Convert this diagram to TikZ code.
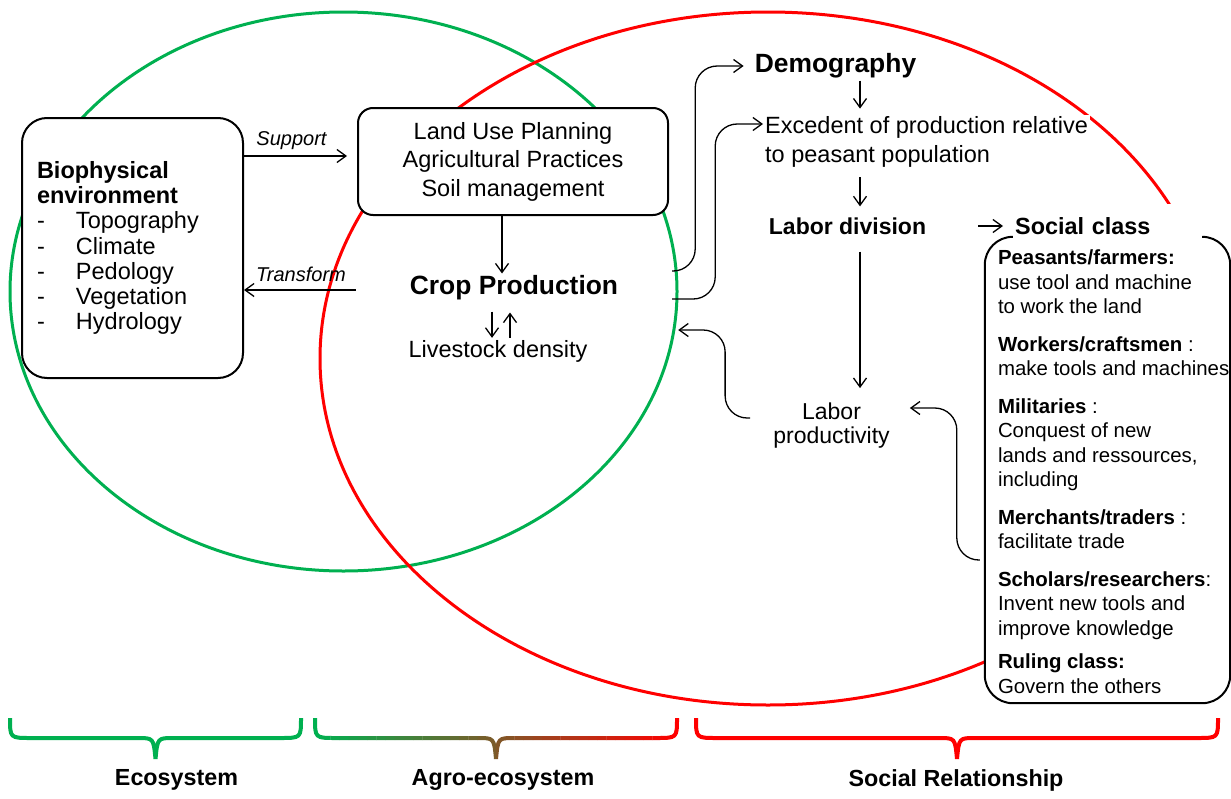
\documentclass[tikz,border=0pt]{standalone}
\usepackage{fontspec}
\setmainfont{Liberation Sans}
\usepackage{xcolor}
\usetikzlibrary{positioning, arrows.meta}

\definecolor{ecogreen}{RGB}{0,176,80}
\definecolor{socred}{RGB}{255,0,0}

\newcommand{\bodysize}{\fontsize{23.5}{28.5}\selectfont}
\newcommand{\listsize}{\fontsize{23.5}{25.3}\selectfont}
\newcommand{\headsize}{\fontsize{26.4}{30}\selectfont}
\newcommand{\labelsize}{\fontsize{20}{24}\selectfont}
\newcommand{\classsize}{\fontsize{20.4}{24.5}\selectfont}
\newcommand{\listitem}[1]{\makebox[39pt][l]{-}#1}
\newcommand{\drawbrace}[3]{%
  \draw[brace, #3] (#1,718) .. controls (#1,738) .. ({#1+21},738)
    -- ({(#1+#2)/2-18},738) .. controls ({(#1+#2)/2-2},738) .. ({(#1+#2)/2},759)
    .. controls ({(#1+#2)/2+2},738) .. ({(#1+#2)/2+18},738)
    -- ({#2-21},738) .. controls (#2,738) .. (#2,718);}

\begin{document}
\begin{tikzpicture}[x=1pt, y=-1pt, >={Straight Barb[length=9pt,width=13pt]},
    every node/.style={inner sep=2pt},
    roundbox/.style={draw, line width=2pt, fill=white},
    link/.style={->, line width=1.3pt},
    curved/.style={link, rounded corners=22pt},
    region/.style={line width=3pt},
    brace/.style={line width=4pt}]
    \useasboundingbox (0,0) rectangle (1231,798);

    % Spheres
    \draw[region, ecogreen] (343.5,291.5) ellipse [x radius=333.5, y radius=279.5];
    \draw[region, socred]   (768,358.5)   ellipse [x radius=448, y radius=346.5];

    % Ecosystem side
    \node[roundbox, rounded corners=25pt, font=\listsize, text width=191pt, align=left,
          inner xsep=15pt, minimum height=260pt] (bio) at (132.5,248)
      {\textbf{Biophysical}\\\textbf{environment}\\\listitem{Topography}\\\listitem{Climate}\\
       \listitem{Pedology}\\\listitem{Vegetation}\\\listitem{Hydrology}};
    \node[roundbox, rounded corners=15pt, font=\bodysize, align=center,
          minimum width=310pt, minimum height=107pt] (land) at (513,161.5)
      {Land Use Planning\\Agricultural Practices\\Soil management};
    \node[font=\headsize\bfseries, minimum width=316pt] (crop) at (514,288) {Crop Production};
    \node[font=\bodysize] (stock) at (498,351) {Livestock density};

    % Social side
    \node[font=\headsize\bfseries] (demo) at (835.5,66) {Demography};
    \node[font=\bodysize, align=left, anchor=west, fill=white] (surplus) at (763,142)
      {Excedent of production relative\\to peasant population};
    \node[font=\fontsize{23}{26}\selectfont\bfseries] (division) at (847.5,226) {Labor division};
    \node[font=\fontsize{23}{24}\selectfont, align=center] (prod) at (831.5,426) {Labor\\productivity};

    % Social classes
    \node[fill=white, minimum width=245pt, minimum height=466pt] (classbox) at (1107.5,470) {};
    \node[font=\fontsize{23.4}{26}\selectfont\bfseries, fill=white, anchor=west,
          text width=183pt, minimum height=44pt] (social) at (1013,226) {Social class};
    \draw[line width=2pt, rounded corners=28pt] ([xshift=28pt]classbox.north west)
      -- (classbox.north west) -- (classbox.south west) -- (classbox.south east)
      -- (classbox.north east) -- ([xshift=-28pt]classbox.north east);
    \node[font=\classsize, align=left, anchor=north west, inner sep=0pt,
          below right=13pt and 13pt of classbox.north west] (classlist)
      {\textbf{Peasants/farmers:}\\use tool and machine\\to work the land\\[13pt]
       \textbf{Workers/craftsmen} :\\make tools and machines\\[13pt]
       \textbf{Militaries} :\\Conquest of new\\lands and ressources,\\including\\[13pt]
       \textbf{Merchants/traders} :\\facilitate trade\\[13pt]
       \textbf{Scholars/researchers}:\\Invent new tools and\\improve knowledge\\[9pt]
       \textbf{Ruling class:}\\Govern the others};

    % Links
    \draw[link, shorten >=10pt] ([yshift=5.5pt]land.west -| bio.east) -- ([yshift=5.5pt]land.west)
      node[pos=0.42, above=4pt, font=\labelsize\itshape] {Support};
    \draw[link] ([yshift=-2pt]crop.west) -- ([yshift=-2pt]crop.west -| bio.east)
      node[pos=0.49, above=6pt, font=\labelsize\itshape] {Transform};
    \draw[link] ([xshift=-11pt]land.south) -- ([xshift=-12pt]crop.north);
    \draw[link, shorten <=9pt] ([xshift=-22pt]crop.south) -- ([xshift=-22pt]crop.south |- stock.north);
    \draw[link, shorten >=10pt] ([xshift=-4pt]crop.south |- stock.north) -- ([xshift=-4pt]crop.south);
    \draw[link, shorten >=6pt] ([xshift=24.5pt]demo.south) -- ([xshift=24.5pt]demo.south |- surplus.north);
    \draw[link, shorten <=8pt, shorten >=9pt] ([xshift=12.5pt]division.north |- surplus.south) -- ([xshift=12.5pt]division.north);
    \draw[link, shorten <=15pt, shorten >=13pt] ([xshift=12.5pt]division.south) -- ([xshift=28.5pt]prod.north);
    \draw[link, shorten <=50pt, shorten >=10pt] (division.east) -- (social.west);
    \draw[curved] ([yshift=17pt]crop.east) -- ++(23,0) |- ([xshift=-9pt]demo.west);
    \draw[curved] ([yshift=-11pt]crop.east) -- ++(43,0) |- ([yshift=18pt]surplus.west);
    \draw[curved] ([xshift=-21pt,yshift=8pt]prod.west) -- ++(-25,0) |- ([xshift=6pt,yshift=-42pt]crop.east);
    \draw[curved] ([xshift=-5pt,yshift=-90pt]classbox.west) -- ++(-23,0) |- ([xshift=18pt,yshift=18pt]prod.east);

    % Braces
    \drawbrace{10}{301}{ecogreen}
    \foreach \i in {0,...,39}{
      \pgfmathtruncatemacro{\pct}{\i*100/39}
      \begin{scope}
        \clip ({312+\i*9.2},700) rectangle ++(9.4,70);
        \drawbrace{315}{677}{socred!\pct!ecogreen}
      \end{scope}
    }
    \drawbrace{696}{1218}{socred}
    \node[font=\fontsize{23.3}{26}\selectfont\bfseries] (ecolabel)  at (176.5,780) {Ecosystem};
    \node[font=\fontsize{23.3}{26}\selectfont\bfseries] (agrolabel) at (503,780)   {Agro-ecosystem};
    \node[font=\fontsize{23.3}{26}\selectfont\bfseries] (soclabel)  at (956,780)   {Social Relationship};
\end{tikzpicture}
\end{document}
